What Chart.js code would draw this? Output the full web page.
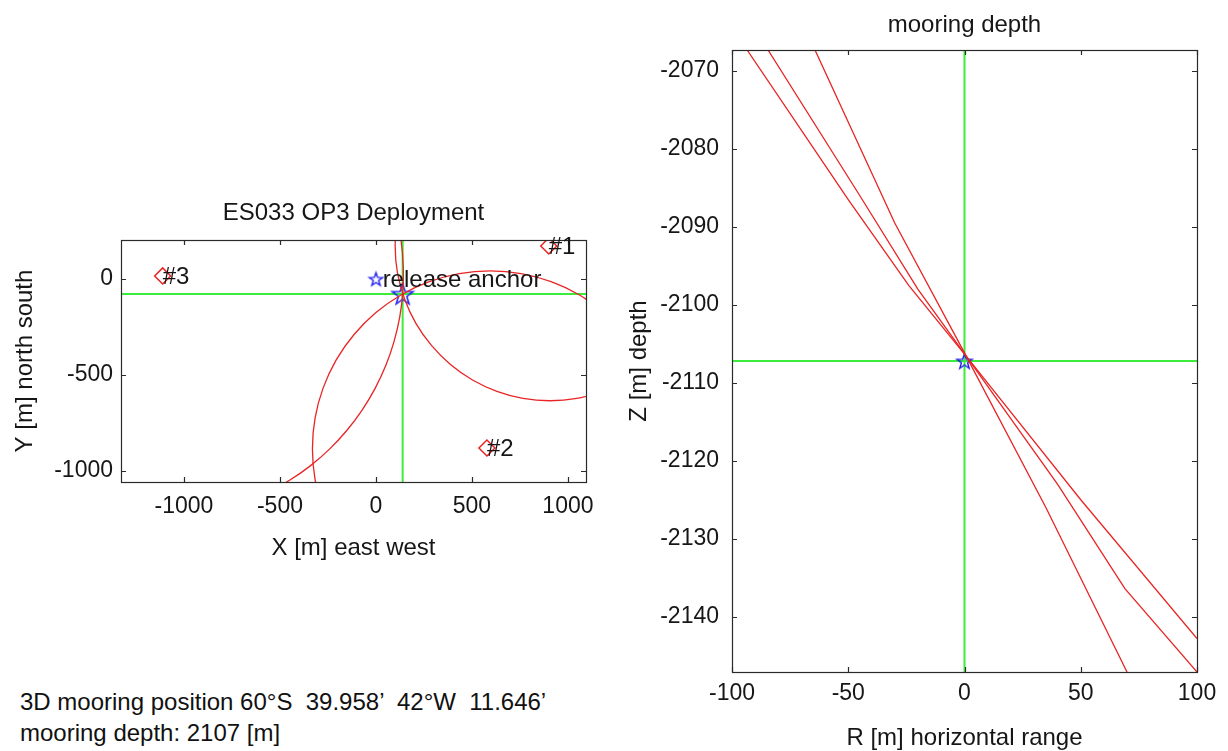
<!DOCTYPE html>
<html>
<head>
<meta charset="utf-8">
<script src="https://cdn.jsdelivr.net/npm/chart.js@4.4.0/dist/chart.umd.min.js"></script>
<style>
  html, body { margin: 0; padding: 0; background: #fff; width: 1228px; height: 751px; overflow: hidden; }
  #plan { position: absolute; left: 0; top: 180px; width: 620px; height: 420px; }
  #depth { position: absolute; left: 620px; top: 0; width: 608px; height: 751px; }
  .note { position: absolute; left: 20px; font: 24px "Liberation Sans", Arial, sans-serif; line-height: 31px; color: #111; white-space: pre; }
</style>
</head>
<body>
<canvas id="plan" width="620" height="420"></canvas>
<canvas id="depth" width="608" height="751"></canvas>
<div class="note" id="note1" style="top:686px"></div>
<div class="note" id="note2" style="top:717px"></div>
<script>
// ---------------- data ----------------
// Plan view
const planXLimits = [-1328, 1094];
const planYLimits = [-1057, 203];
const planXTicks = [-1000, -500, 0, 500, 1000];
const planYTicks = [-1000, -500, 0];

const transponderNames = ['#1', '#2', '#3'];
const transponderX = [900, 578, -1111];
const transponderY = [172, -880, 16];

const anchorLabel = [' release anchor'];
const anchorX = [0];
const anchorY = [0];

const mooringX = 139;
const mooringY = -78;

// range circle around transponder #1
const range1X = [112, 100, 112, 149, 208, 289, 388, 503, 630, 766, 906, 1046, 1182];
const range1Y = [312, 172, 32, -104, -231, -346, -445, -526, -585, -622, -634, -622, -585];
// range circle around transponder #2
const range2X = [1190, 1058, 912, 756, 595, 434, 278, 132, 0, -114, -207, -275, -317, -331, -317, -275];
const range2Y = [-175, -82, -14, 28, 42, 28, -14, -82, -175, -289, -421, -567, -723, -884, -1045, -1201];
// range circle around transponder #3
const range3X = [106, 131, 142, 140, 124, 94, 51, -5, -73, -152, -242, -342, -450, -566];
const range3Y = [327, 198, 66, -66, -197, -326, -451, -571, -684, -789, -886, -973, -1048, -1112];

// Depth view
const depthRLimits = [-100, 100];
const depthZLimits = [-2147.1, -2067.3];
const depthRTicks = [-100, -50, 0, 50, 100];
const depthZTicks = [-2140, -2130, -2120, -2110, -2100, -2090, -2080, -2070];
const mooringDepth = -2107.2;

const lineAR = [-93.5, -50, -24, 0.8, 50, 100];
const lineAZ = [-2067.3, -2086.5, -2097.5, -2106.6, -2125, -2142.8];
const lineBR = [-84.5, -45, -20, 0.8, 40, 69, 100];
const lineBZ = [-2067.3, -2086, -2098, -2106.6, -2123, -2136.4, -2147.1];
const lineCR = [-64.3, -30, 0.8, 35, 69.9];
const lineCZ = [-2067.3, -2089.5, -2106.6, -2126, -2147.1];

const noteLines = ['3D mooring position 60\u00B0S  39.958\u2019  42\u00B0W  11.646\u2019', 'mooring depth: 2107 [m]'];

// ---------------- styling / helpers ----------------
const FONT = '"Liberation Sans", Arial, sans-serif';
const RED = 'rgb(232,36,36)';
const GREEN = 'rgb(60,236,60)';
const BLUE = 'rgb(30,30,235)';
const TEXT = '#161616';

document.getElementById('note1').textContent = noteLines[0];
document.getElementById('note2').textContent = noteLines[1];

function pts(xs, ys) { return xs.map((x, i) => ({ x: x, y: ys[i] })); }

function makeStar(r, color, lw) {
  const s = Math.ceil(2 * r + 2 * lw + 4);
  const c = document.createElement('canvas');
  c.width = s; c.height = s;
  const g = c.getContext('2d');
  g.strokeStyle = color; g.lineWidth = lw; g.lineJoin = 'miter';
  g.beginPath();
  for (let k = 0; k < 10; k++) {
    const a = -Math.PI / 2 + k * Math.PI / 5;
    const rr = (k % 2) ? r * 0.4 : r;
    const px = s / 2 + rr * Math.cos(a), py = s / 2 + rr * Math.sin(a) + r * 0.1;
    if (k === 0) g.moveTo(px, py); else g.lineTo(px, py);
  }
  g.closePath(); g.stroke();
  return c;
}

const framePlugin = {
  id: 'frame',
  afterDatasetsDraw(chart) {
    const { ctx, chartArea: a } = chart;
    const x = chart.scales.x, y = chart.scales.y;
    ctx.save();
    ctx.strokeStyle = '#2a2a2a';
    ctx.lineWidth = 1.2;
    ctx.strokeRect(Math.round(a.left) + 0.5, Math.round(a.top) + 0.5, Math.round(a.right - a.left), Math.round(a.bottom - a.top));
    const L = 5;
    ctx.beginPath();
    x.ticks.forEach(t => {
      const px = Math.round(x.getPixelForValue(t.value)) + 0.5;
      ctx.moveTo(px, a.bottom); ctx.lineTo(px, a.bottom - L);
      ctx.moveTo(px, a.top); ctx.lineTo(px, a.top + L);
    });
    y.ticks.forEach(t => {
      const py = Math.round(y.getPixelForValue(t.value)) + 0.5;
      ctx.moveTo(a.left, py); ctx.lineTo(a.left + L, py);
      ctx.moveTo(a.right, py); ctx.lineTo(a.right - L, py);
    });
    ctx.stroke();
    ctx.restore();
  }
};

const labelPlugin = {
  id: 'ptLabels',
  afterDatasetsDraw(chart) {
    const ctx = chart.ctx;
    ctx.save();
    ctx.font = '24px ' + FONT;
    ctx.fillStyle = TEXT;
    ctx.textAlign = 'left';
    ctx.textBaseline = 'middle';
    chart.data.datasets.forEach((ds, i) => {
      if (!ds.pointLabels) return;
      chart.getDatasetMeta(i).data.forEach((el, j) => {
        ctx.fillText(ds.pointLabels[j], el.x, el.y + 1);
      });
    });
    ctx.restore();
  }
};

function axis(limits, ticks, title, fitProp, fitVal, tickPad, titlePad) {
  return {
    type: 'linear',
    min: limits[0], max: limits[1],
    afterBuildTicks: s => { s.ticks = ticks.map(v => ({ value: v })); },
    afterFit: s => { s[fitProp] = fitVal; },
    ticks: { font: { family: FONT, size: 23 }, color: TEXT, padding: tickPad, maxRotation: 0, autoSkip: false, callback: v => String(v) },
    grid: { display: false, drawTicks: false },
    border: { display: false },
    title: { display: true, text: title, color: TEXT, font: { family: FONT, size: 24, lineHeight: 1 }, padding: titlePad }
  };
}

function lineSet(data, color, width, tension, order) {
  return { data: data, showLine: true, borderColor: color, borderWidth: width, pointRadius: 0, tension: tension, fill: false, order: order };
}

Chart.defaults.font.family = FONT;

// ---------------- plan view ----------------
new Chart(document.getElementById('plan'), {
  type: 'scatter',
  data: {
    datasets: [
      lineSet(pts([mooringX, mooringX], planYLimits), GREEN, 2, 0, 10),
      lineSet(pts(planXLimits, [mooringY, mooringY]), GREEN, 2, 0, 10),
      lineSet(pts(range1X, range1Y), RED, 1.3, 0.4, 6),
      lineSet(pts(range2X, range2Y), RED, 1.3, 0.4, 6),
      lineSet(pts(range3X, range3Y), RED, 1.3, 0.4, 6),
      { data: pts(transponderX, transponderY), pointStyle: 'rectRot', pointRadius: 8, borderColor: RED, borderWidth: 1.5,
        backgroundColor: 'rgba(0,0,0,0)', pointLabels: transponderNames, order: 4 },
      { data: pts(anchorX, anchorY), pointStyle: makeStar(7, BLUE, 1.4), pointRadius: 7, pointLabels: anchorLabel, order: 8 },
      { data: pts([mooringX], [mooringY]), pointStyle: makeStar(11, BLUE, 1.5), pointRadius: 11, order: 8 }
    ]
  },
  options: {
    responsive: false, animation: false, events: [],
    layout: { padding: { left: 0, right: 34, top: 0, bottom: 0 } },
    plugins: {
      legend: { display: false }, tooltip: { enabled: false },
      title: { display: true, fullSize: false, text: 'ES033 OP3 Deployment', color: TEXT,
               font: { family: FONT, size: 24, weight: 'normal', lineHeight: 1 }, padding: { top: 21, bottom: 15 } }
    },
    scales: {
      x: axis(planXLimits, planXTicks, 'X [m] east west', 'height', 118, 11, { top: 0, bottom: 40 }),
      y: axis(planYLimits, planYTicks, 'Y [m] north south', 'width', 121, 8, { top: 13, bottom: 0 })
    }
  },
  plugins: [framePlugin, labelPlugin]
});

// ---------------- depth view ----------------
new Chart(document.getElementById('depth'), {
  type: 'scatter',
  data: {
    datasets: [
      lineSet(pts([0, 0], depthZLimits), GREEN, 2, 0, 10),
      lineSet(pts(depthRLimits, [mooringDepth, mooringDepth]), GREEN, 2, 0, 10),
      lineSet(pts(lineAR, lineAZ), RED, 1.3, 0, 6),
      lineSet(pts(lineBR, lineBZ), RED, 1.3, 0, 6),
      lineSet(pts(lineCR, lineCZ), RED, 1.3, 0, 6),
      { data: pts([0], [mooringDepth]), pointStyle: makeStar(8, BLUE, 1.4), pointRadius: 8, order: 8 }
    ]
  },
  options: {
    responsive: false, animation: false, events: [],
    layout: { padding: { left: 0, right: 31, top: 0, bottom: 0 } },
    plugins: {
      legend: { display: false }, tooltip: { enabled: false },
      title: { display: true, fullSize: false, text: 'mooring depth', color: TEXT,
               font: { family: FONT, size: 24, weight: 'normal', lineHeight: 1 }, padding: { top: 13, bottom: 13 } }
    },
    scales: {
      x: axis(depthRLimits, depthRTicks, 'R [m] horizontal range', 'height', 79, 8, { top: 0, bottom: 1 }),
      y: axis(depthZLimits, depthZTicks, 'Z [m] depth', 'width', 112, 13, { top: 7, bottom: 0 })
    }
  },
  plugins: [framePlugin, labelPlugin]
});
</script>
</body>
</html>
